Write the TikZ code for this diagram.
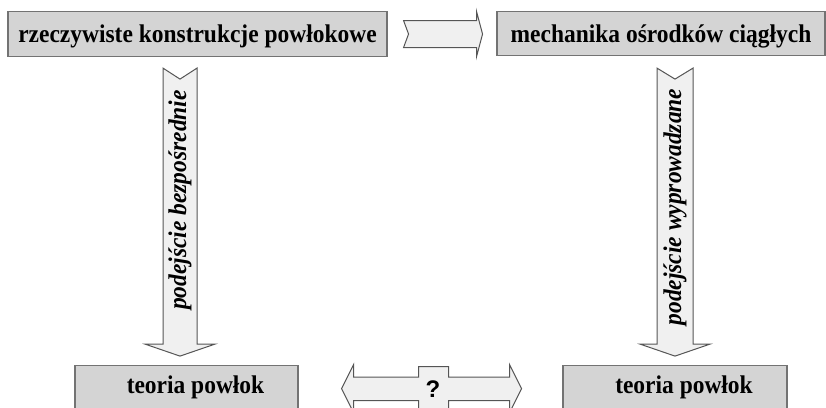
\documentclass[tikz,border=0pt]{standalone}
\usepackage{fontspec}
\setmainfont{Liberation Serif}
\newfontfamily\boxfont[FakeStretch=0.92]{Liberation Serif}
\newfontfamily\qsans{Liberation Sans}
\usepackage{tikz}

\definecolor{boxgray}{RGB}{212,212,212}
\definecolor{boxedge}{RGB}{115,115,115}
\definecolor{arrowfill}{RGB}{240,240,240}
\definecolor{arrowedge}{RGB}{85,85,85}

\tikzset{
  boxnode/.style={draw=boxedge, fill=boxgray, line width=1.1pt, inner sep=0pt,
    font=\boxfont\fontsize{25.5}{30}\selectfont\bfseries},
  blockarrow/.style={draw=arrowedge, fill=arrowfill, line width=1pt, line join=miter},
  arrowlabel/.style={rotate=90, inner sep=0pt,
    font=\boxfont\fontsize{25.5}{30}\selectfont\bfseries\itshape}
}

\begin{document}
\begin{tikzpicture}[x=1pt,y=1pt,yscale=-1]
\useasboundingbox (0,0) rectangle (826,407);
\clip (0,0) rectangle (826,407);

% Text Node
\node [boxnode, anchor=north, minimum width=379, text height=31pt, text depth=14pt] (real) at (197.5,11) {rzeczywiste konstrukcje powłokowe};
% Text Node
\node [boxnode, anchor=north, minimum width=328, text height=31pt, text depth=13pt] (mech) at (661,11) {mechanika ośrodków ciągłych};
% Text Node
\node [boxnode, anchor=north, minimum width=223, text height=28pt, text depth=26pt] (theoryL) at (186.5,365) {\hspace*{18pt}teoria powłok};
% Text Node
\node [boxnode, anchor=north, minimum width=224, text height=28pt, text depth=26pt] (theoryR) at (675,365) {\hspace*{18pt}teoria powłok};

%Shape: Right Arrow
\draw [blockarrow] (real.east) ++(16,-13.5) -- ++(73,0) -- ++(0,-9) -- ++(6,22.5) -- ++(-6,22.5) -- ++(0,-9) -- ++(-73,0) -- ++(5,-13.5) -- cycle ;
%Shape: Down Arrow
\draw [blockarrow] (real.south) ++(-34.5,11) -- ++(17,11) -- ++(17,-11) -- ++(0,276) -- ++(18,0) -- ++(-35,12) -- ++(-35,-12) -- ++(18,0) -- cycle ;
%Shape: Down Arrow
\draw [blockarrow] (mech.south) ++(-4,12) -- ++(18,11) -- ++(18,-11) -- ++(0,276) -- ++(17,0) -- ++(-35,12) -- ++(-35,-12) -- ++(17,0) -- cycle ;
%Shape: Left Right Arrow
\draw [blockarrow] (theoryL.east) ++(43,-4) -- ++(12,-24) -- ++(0,12.5) -- ++(65,0) -- ++(0,-10.5) -- ++(30,0) -- ++(0,10.5) -- ++(61,0) -- ++(0,-12.5) -- ++(12,24) -- ++(-12,24) -- ++(0,-12) -- ++(-61,0) -- ++(0,10) -- ++(-30,0) -- ++(0,-10) -- ++(-65,0) -- ++(0,12) -- cycle ;

% Text Node
\node [arrowlabel] (direct) at (180,200) {podejście bezpośrednie};
% Text Node
\node [arrowlabel] (derived) at (675,207) {podejście wyprowadzane};
% Text Node
\node [inner sep=0pt, font=\qsans\fontsize{24}{28}\selectfont\bfseries] (ask) at (433,389) {?};

\end{tikzpicture}
\end{document}
